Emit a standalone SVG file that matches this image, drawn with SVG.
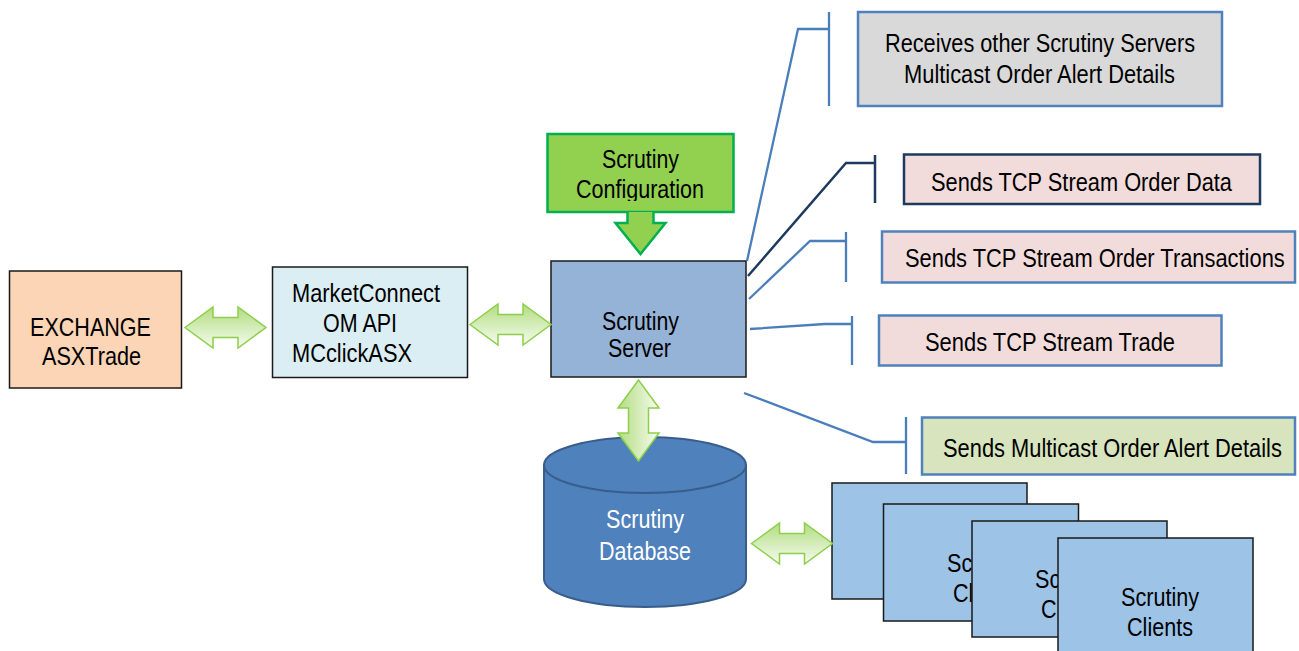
<svg xmlns="http://www.w3.org/2000/svg" width="1299" height="651" viewBox="0 0 1299 651">
<style>
text{font-family:"Liberation Sans",Arial,sans-serif;font-size:25px;fill:#000}
.box{stroke:#1a1a1a;stroke-width:1.5}
.call{fill:none;stroke:#4A7EBB;stroke-width:2.3}
.callD{fill:none;stroke:#1F3A5F;stroke-width:2.5}
.dbl{stroke:#8DCF4A;stroke-width:1.5}
.lbl{stroke:#4F81BD;stroke-width:2.5}
.client{fill:#9DC3E6;stroke:#1a1a1a;stroke-width:1.5}
</style>
<defs>
<linearGradient id="g" x1="0" y1="0" x2="0" y2="1">
<stop offset="0" stop-color="#B2DD80"/>
<stop offset="1" stop-color="#F6FBF0"/>
</linearGradient>
<path id="dbarrow" d="M-40.5 0 L-12.5 -20.5 L-12.5 -10 L12.5 -10 L12.5 -20.5 L40.5 0 L12.5 20.5 L12.5 10 L-12.5 10 L-12.5 20.5 Z"/>
<clipPath id="cfgclip"><rect x="547" y="134" width="187" height="67"/></clipPath>
</defs>

<g id="exchange">
<rect x="9.5" y="271" width="172" height="117" fill="#FBD5B5" class="box"/>
<text x="30" y="336" textLength="121" lengthAdjust="spacingAndGlyphs">EXCHANGE</text>
<text x="42" y="365" textLength="99" lengthAdjust="spacingAndGlyphs">ASXTrade</text>
</g>

<g id="marketconnect">
<rect x="272.5" y="267" width="195" height="110.5" fill="#DBEEF4" class="box"/>
<text x="292" y="302" textLength="148" lengthAdjust="spacingAndGlyphs">MarketConnect</text>
<text x="323" y="332" textLength="74" lengthAdjust="spacingAndGlyphs">OM API</text>
<text x="292" y="362" textLength="120" lengthAdjust="spacingAndGlyphs">MCclickASX</text>
</g>

<g id="config">
<rect x="547.5" y="134" width="186" height="78" fill="#92D050" stroke="#00B050" stroke-width="2.5"/>
<path d="M627.5 212 L627.5 223 L615.5 223 L640.5 254 L665.5 223 L653.5 223 L653.5 212" fill="#92D050" stroke="#00B050" stroke-width="2.5"/>
<g clip-path="url(#cfgclip)">
<text x="602" y="168" textLength="77" lengthAdjust="spacingAndGlyphs">Scrutiny</text>
<text x="576" y="198" textLength="128" lengthAdjust="spacingAndGlyphs">Configuration</text>
</g>
</g>

<g id="server">
<rect x="551" y="261" width="195" height="116" fill="#95B3D7" class="box"/>
<text x="602" y="330" textLength="77" lengthAdjust="spacingAndGlyphs">Scrutiny</text>
<text x="608" y="357" textLength="63" lengthAdjust="spacingAndGlyphs">Server</text>
</g>

<g id="database">
<path d="M544 465 L544 579 A101 28 0 0 0 746 579 L746 465 A101 28 0 0 0 544 465 Z" fill="#4F81BD" stroke="#385D8A" stroke-width="2"/>
<path d="M544 465 A101 28 0 0 0 746 465" fill="none" stroke="#385D8A" stroke-width="2"/>
<text x="606" y="528" textLength="78" lengthAdjust="spacingAndGlyphs" style="fill:#fff">Scrutiny</text>
<text x="599" y="560" textLength="92" lengthAdjust="spacingAndGlyphs" style="fill:#fff">Database</text>
</g>

<g id="lbl-receives">
<rect x="858" y="12" width="364" height="94" fill="#D9D9D9" class="lbl"/>
<text x="885" y="52" textLength="310" lengthAdjust="spacingAndGlyphs">Receives other Scrutiny Servers</text>
<text x="904" y="83" textLength="271" lengthAdjust="spacingAndGlyphs">Multicast Order Alert Details</text>
</g>

<g id="lbl-orderdata">
<rect x="904" y="154.5" width="356" height="49.5" fill="#F2DCDB" stroke="#1F3A5F" stroke-width="2.5"/>
<text x="931" y="191" textLength="301" lengthAdjust="spacingAndGlyphs">Sends TCP Stream Order Data</text>
</g>

<g id="lbl-transactions">
<rect x="882" y="231.5" width="413" height="51" fill="#F2DCDB" class="lbl"/>
<text transform="translate(905 267) scale(0.871 1)" x="0" y="0" textLength="436" lengthAdjust="spacingAndGlyphs">Sends TCP Stream Order Transactions</text>
</g>

<g id="lbl-trade">
<rect x="879" y="315.5" width="342.5" height="50" fill="#F2DCDB" class="lbl"/>
<text x="925" y="351" textLength="250" lengthAdjust="spacingAndGlyphs">Sends TCP Stream Trade</text>
</g>

<g id="lbl-multicast">
<rect x="922" y="417.5" width="373" height="57" fill="#D7E4BD" class="lbl"/>
<text transform="translate(943 457) scale(0.871 1)" x="0" y="0" textLength="389" lengthAdjust="spacingAndGlyphs">Sends Multicast Order Alert Details</text>
</g>

<g id="clients">
<rect x="832" y="483" width="195" height="116" class="client"/>
<rect x="883.5" y="504" width="195" height="117" class="client"/>
<text x="947" y="572" textLength="78" lengthAdjust="spacingAndGlyphs">Scrutiny</text>
<text x="953" y="602" textLength="66" lengthAdjust="spacingAndGlyphs">Clients</text>
<rect x="972" y="521" width="195" height="116" class="client"/>
<text x="1035" y="588" textLength="78" lengthAdjust="spacingAndGlyphs">Scrutiny</text>
<text x="1041" y="618" textLength="66" lengthAdjust="spacingAndGlyphs">Clients</text>
<rect x="1058" y="538" width="195" height="120" class="client"/>
<text x="1121" y="606" textLength="78" lengthAdjust="spacingAndGlyphs">Scrutiny</text>
<text x="1127" y="636" textLength="66" lengthAdjust="spacingAndGlyphs">Clients</text>
</g>

<g id="connectors">
<use href="#dbarrow" transform="translate(225.5 327.5)" fill="url(#g)" class="dbl"/>
<use href="#dbarrow" transform="translate(510.5 324.5)" fill="url(#g)" class="dbl"/>
<use href="#dbarrow" transform="translate(638.5 420.5) rotate(-90)" fill="url(#g)" class="dbl"/>
<use href="#dbarrow" transform="translate(792 543.5)" fill="url(#g)" class="dbl"/>
<path class="call" d="M747 261 L798 29 L829 29 M829 12 L829 106"/>
<path class="callD" d="M748 276 L846 163 L875 163 M875 155 L875 203"/>
<path class="call" d="M749 299 L810 241 L846 241 M846 232 L846 282"/>
<path class="call" d="M750 329 L825 324 L852 324 M852 316 L852 365"/>
<path class="call" d="M744 393 L873 442 L906 442 M906 417 L906 474"/>
</g>
</svg>
